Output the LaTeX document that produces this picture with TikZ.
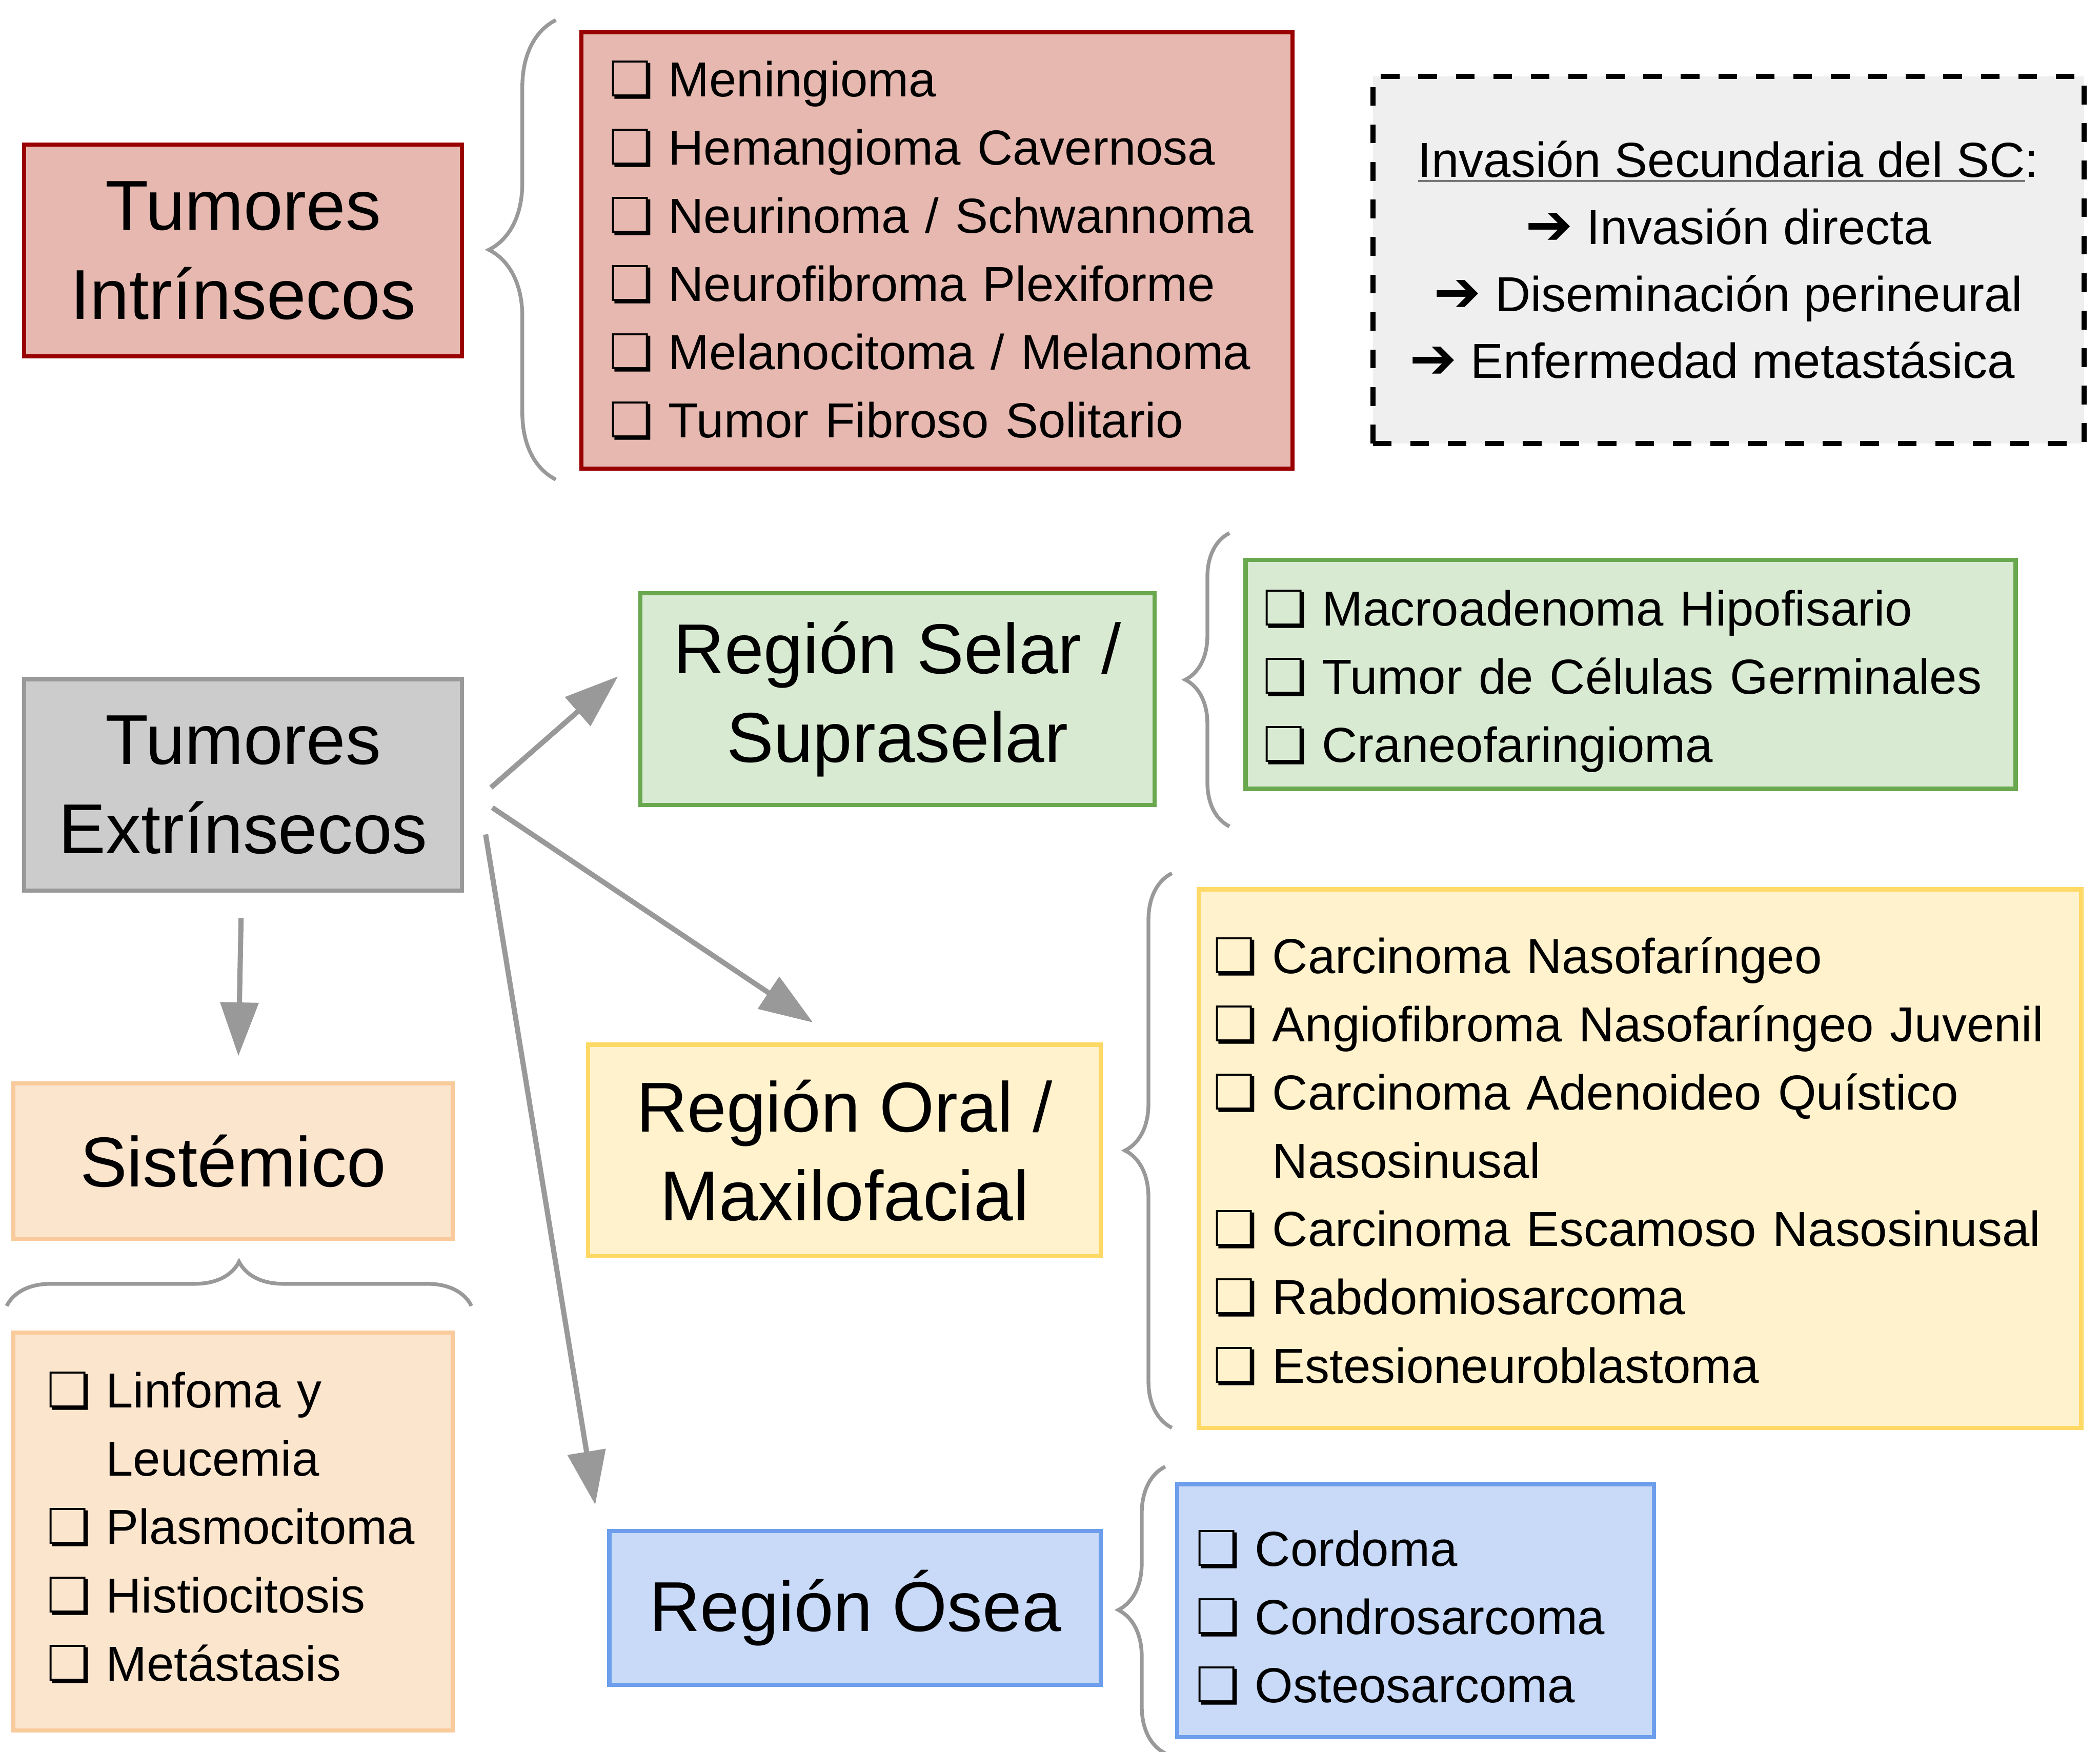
\documentclass[tikz,border=0pt]{standalone}
\usepackage{fontspec}
\setmainfont{Liberation Sans}
\newfontfamily\symfont{DejaVu Sans Bold}
\usepackage{tikz}
\usetikzlibrary{arrows.meta,positioning,decorations.pathreplacing}

\definecolor{gris}{HTML}{999999}
\definecolor{grisF}{HTML}{CCCCCC}
\definecolor{grisC}{HTML}{EFEFEF}
\definecolor{rojoF}{HTML}{E6B8AF}
\definecolor{rojoB}{HTML}{990000}
\definecolor{verdeF}{HTML}{D9EAD3}
\definecolor{verdeB}{HTML}{6AA84F}
\definecolor{amaF}{HTML}{FFF2CC}
\definecolor{amaB}{HTML}{FFD966}
\definecolor{azulF}{HTML}{C9DAF8}
\definecolor{azulB}{HTML}{6D9EEB}
\definecolor{naraF}{HTML}{FCE5CD}
\definecolor{naraB}{HTML}{F9CB9C}

\newcommand{\chk}{\makebox[1.2em][l]{\symfont ❏}}
\newcommand{\sigue}{\hspace*{1.2em}}
\newcommand{\flecha}{\scalebox{1.15}{\symfont ➔}}

\begin{document}
\begin{tikzpicture}[
  every node/.style={align=center, font=\fontsize{30}{36.4}\selectfont},
  region/.style={draw, line width=1.8pt, inner sep=2pt},
  lista/.style={draw, line width=1.8pt, align=left, inner ysep=0pt,
    font=\fontsize{20.9}{29}\selectfont},
  llave/.style={decorate, decoration={brace, amplitude=#1}, draw=gris, line width=1.6pt},
  flechagris/.style={draw=gris, fill=gris, line width=2.2pt},
  >={Triangle[length=8mm, width=5.6mm]}
]
\useasboundingbox (0,0) rectangle (31.36,-26.16);

% tumores intrinsecos
\node[region, fill=rojoF, draw=rojoB, minimum width=6.54cm, minimum height=3.16cm] (intr) at (3.63,-3.74) {Tumores\\[0.05cm]Intrínsecos};
\node[lista, fill=rojoF, draw=rojoB, minimum height=6.52cm, text width=9.78cm, inner xsep=4.2mm] (intrlista) at (13.99,-3.74)
  {\chk Meningioma\\ \chk Hemangioma Cavernosa\\ \chk Neurinoma / Schwannoma\\ \chk Neurofibroma Plexiforme\\ \chk Melanocitoma / Melanoma\\ \chk Tumor Fibroso Solitario};
\draw[llave=1cm] (8.3,-7.16) -- (8.3,-0.3);

\node[draw, fill=grisC, line width=2.2pt, dash pattern=on 2.8mm off 2.8mm, minimum width=10.62cm, minimum height=5.48cm,
  font=\fontsize{20.9}{28.5}\selectfont] (invasion) at (25.81,-3.88)
  {\underline{Invasión Secundaria del SC}:\\ \flecha\ Invasión directa\hspace*{0.48cm}\\ \flecha\ Diseminación perineural\hspace*{0.48cm}\\ \flecha\ Enfermedad metastásica\hspace*{0.48cm}};

% tumores extrinsecos
\node[region, fill=grisF, draw=gris, minimum width=6.54cm, minimum height=3.16cm] (extr) at (3.63,-11.72) {Tumores\\[0.05cm]Extrínsecos};

\node[region, fill=verdeF, draw=verdeB, minimum width=7.68cm, minimum height=3.16cm] (selar) at (13.4,-10.44) {Región Selar /\\[0.05cm]Supraselar};
\node[lista, fill=verdeF, draw=verdeB, minimum height=3.42cm, text width=10.98cm, inner xsep=2.6mm] (selarlista) at (24.35,-10.07)
  {\par\vspace*{-0.28cm}\chk Macroadenoma Hipofisario\\ \chk Tumor de Células Germinales\\ \chk Craneofaringioma};
\draw[llave=6.6mm] (18.36,-12.34) -- (18.36,-7.96);

\node[region, fill=amaF, draw=amaB, minimum width=7.66cm, minimum height=3.16cm] (oral) at (12.61,-17.18) {Región Oral /\\[0.05cm]Maxilofacial};
\node[lista, fill=amaF, draw=amaB, minimum height=8.04cm, text width=12.74cm, inner xsep=2.2mm] (orallista) at (24.49,-17.3)
  {\par\vspace*{-0.4cm}\chk Carcinoma Nasofaríngeo\\ \chk Angiofibroma Nasofaríngeo Juvenil\\ \chk Carcinoma Adenoideo Quístico\\ \sigue Nasosinusal\\ \chk Carcinoma Escamoso Nasosinusal\\ \chk Rabdomiosarcoma\\ \chk Estesioneuroblastoma};
\draw[llave=7mm] (17.5,-21.32) -- (17.5,-13.04);

\node[region, fill=azulF, draw=azulB, minimum width=7.34cm, minimum height=2.3cm] (osea) at (12.77,-24.01) {Región Ósea};
\node[lista, fill=azulF, draw=azulB, minimum height=3.78cm, text width=6.56cm, inner xsep=2.8mm] (osealista) at (21.14,-24.05)
  {\par\vspace*{-0.28cm}\chk Cordoma\\ \chk Condrosarcoma\\ \chk Osteosarcoma};
\draw[llave=7mm] (17.4,-26.18) -- (17.4,-21.9);

\node[region, fill=naraF, draw=naraB, minimum width=6.56cm, minimum height=2.32cm] (sist) at (3.48,-17.34) {Sistémico};
\node[lista, fill=naraF, draw=naraB, minimum height=5.94cm, text width=5.56cm, inner xsep=5mm] (sistlista) at (3.48,-22.87)
  {\chk Linfoma y\\ \sigue Leucemia\\ \chk Plasmocitoma\\ \chk Histiocitosis\\ \chk Metástasis\vspace*{0.12cm}};
\draw[llave=6.6mm] (0.1,-19.5) -- (7.04,-19.5);

% flechas
\draw[->, flechagris] ([shift={(0.4,-0.04)}]extr.east) -- ([shift={(-0.3,0.34)}]selar.west);
\draw[->, flechagris] ([shift={(0.42,-0.34)}]extr.east) -- ([shift={(-0.47,0.3)}]oral.north);
\draw[->, flechagris] ([shift={(0.32,-0.74)}]extr.east) -- ([shift={(-0.18,0.36)}]osea.north west);
\draw[->, flechagris] ([shift={(-0.03,-0.38)}]extr.south) -- ([shift={(0.08,0.38)}]sist.north);
\end{tikzpicture}
\end{document}
